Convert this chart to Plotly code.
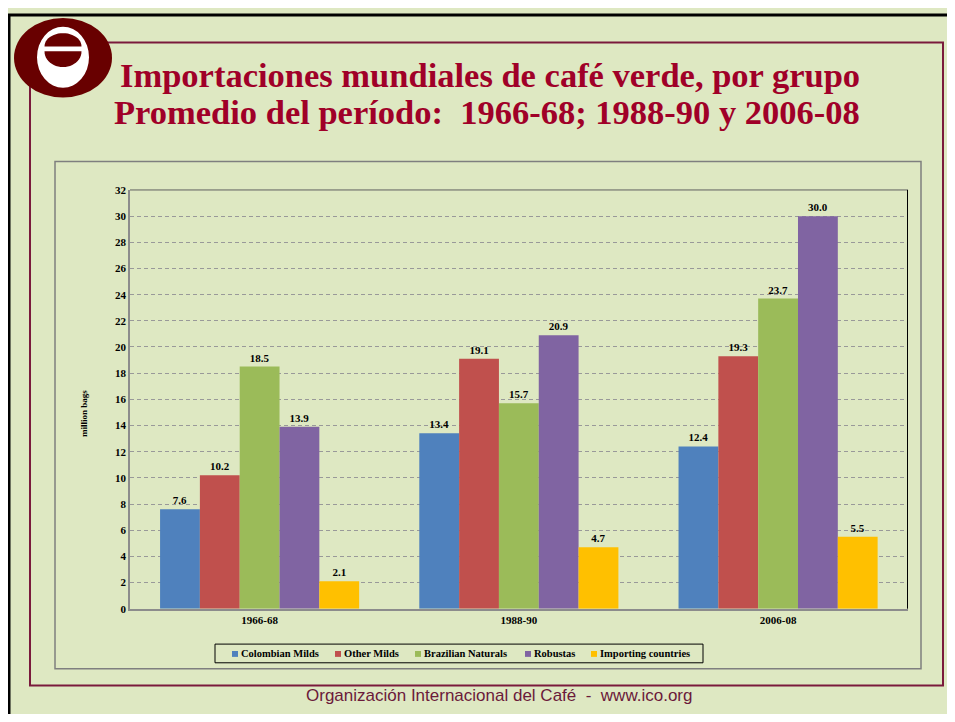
import plotly.graph_objects as go
import math

periods = ["1966-68", "1988-90", "2006-08"]
series_names = ["Colombian Milds", "Other Milds", "Brazilian Naturals", "Robustas", "Importing countries"]
colombian = [7.6, 13.4, 12.4]
other_milds = [10.2, 19.1, 19.3]
brazilian = [18.5, 15.7, 23.7]
robustas = [13.9, 20.9, 30.0]
importing = [2.1, 4.7, 5.5]
y_ticks = list(range(0, 33, 2))

colors = ["#4F81BD", "#C0504D", "#9BBB59", "#8064A2", "#FFC000"]
values = [colombian, other_milds, brazilian, robustas, importing]

OFF = 8  # page body margin
W, H = 955 - OFF, 722 - 2 * OFF
BG = "#DEE8C2"
SERIF = "Liberation Serif, Times New Roman, serif"


def px(x):
    return (x - OFF) / W


def py(y):
    return 1 - (y - OFF) / H


fig = go.Figure()
for name, vals, col in zip(series_names, values, colors):
    fig.add_trace(go.Bar(
        name=name, x=periods, y=vals, marker=dict(color=col, line=dict(width=0)),
        texttemplate="%{y:.1f}", textposition="outside",
        textfont=dict(family=SERIF, size=11, color="black", weight="bold"),
        cliponaxis=False, showlegend=False,
    ))

shapes = []
# outer black border
shapes.append(dict(type="line", xref="paper", yref="paper", x0=px(8), x1=px(955), y0=py(9), y1=py(9),
                   line=dict(color="black", width=3)))
shapes.append(dict(type="line", xref="paper", yref="paper", x0=px(9), x1=px(9), y0=py(8), y1=py(722),
                   line=dict(color="black", width=3)))
# maroon frame
shapes.append(dict(type="rect", xref="paper", yref="paper", x0=px(30), x1=px(943), y0=py(37), y1=py(691),
                   line=dict(color="#7A1A3C", width=2)))
# chart box
shapes.append(dict(type="rect", xref="paper", yref="paper", x0=px(55), x1=px(921), y0=py(158), y1=py(674),
                   line=dict(color="#7F7F7F", width=1.5)))
# plot area top/right border
shapes.append(dict(type="line", xref="paper", yref="paper", x0=px(130), x1=px(908), y0=py(187), y1=py(187),
                   line=dict(color="#606060", width=1)))
shapes.append(dict(type="line", xref="paper", yref="paper", x0=px(907.5), x1=px(907.5), y0=py(187), y1=py(613),
                   line=dict(color="black", width=1)))

# logo
LOGO = "#680000"
shapes.append(dict(type="circle", xref="paper", yref="paper", x0=px(14), x1=px(112), y0=py(12), y1=py(93),
                   fillcolor=LOGO, line=dict(width=0)))
shapes.append(dict(type="circle", xref="paper", yref="paper", x0=px(37), x1=px(89), y0=py(21), y1=py(83),
                   fillcolor="white", line=dict(width=0)))


def half_ellipse(cx, yflat, rx, ry, up):
    pts = []
    n = 24
    for i in range(n + 1):
        a = math.pi * i / n
        x = cx - rx * math.cos(a)
        y = yflat - ry * math.sin(a) if up else yflat + ry * math.sin(a)
        pts.append((px(x), py(y)))
    return "M " + " L ".join(f"{x:.5f},{y:.5f}" for x, y in pts) + " Z"


shapes.append(dict(type="path", xref="paper", yref="paper", path=half_ellipse(63, 41, 18.5, 13.5, True),
                   fillcolor=LOGO, line=dict(width=0)))
shapes.append(dict(type="path", xref="paper", yref="paper", path=half_ellipse(63, 46, 18.5, 16, False),
                   fillcolor=LOGO, line=dict(width=0)))

annotations = [
    dict(text="<b>Importaciones mundiales de café verde, por grupo</b>", xref="paper", yref="paper",
         x=px(490), y=py(70), showarrow=False, xanchor="center", yanchor="middle",
         font=dict(family=SERIF, size=34.5, color="#A00028")),
    dict(text="<b>Promedio del período:  1966-68; 1988-90 y 2006-08</b>", xref="paper", yref="paper",
         x=px(487), y=py(108), showarrow=False, xanchor="center", yanchor="middle",
         font=dict(family=SERIF, size=34.5, color="#A00028")),
    dict(text="<b>million bags</b>", xref="paper", yref="paper", x=px(84), y=py(415), showarrow=False,
         textangle=-90, xanchor="center", yanchor="middle", font=dict(family=SERIF, size=9, color="black")),
    dict(text="Organización Internacional del Café  -  www.ico.org", xref="paper", yref="paper",
         x=px(499), y=py(713), showarrow=False, xanchor="center", yanchor="bottom",
         font=dict(family="Liberation Sans, Arial, sans-serif", size=17, color="#6B1A3A")),
]

# Excel-style legend box
shapes.append(dict(type="rect", xref="paper", yref="paper", x0=px(215), x1=px(703), y0=py(649), y1=py(668),
                   line=dict(color="black", width=1)))
legend_x = [232, 335, 415, 525, 591]
for name, col, lx in zip(series_names, colors, legend_x):
    shapes.append(dict(type="rect", xref="paper", yref="paper", x0=px(lx), x1=px(lx + 6),
                       y0=py(656), y1=py(662), fillcolor=col, line=dict(width=0)))
    annotations.append(dict(text=f"<b>{name}</b>", xref="paper", yref="paper", x=px(lx + 7), y=py(659),
                            showarrow=False, xanchor="left", yanchor="middle",
                            font=dict(family=SERIF, size=10.5, color="black")))

fig.update_layout(
    width=W, height=H, margin=dict(l=0, r=0, t=0, b=0),
    paper_bgcolor=BG, plot_bgcolor=BG,
    barmode="group", bargap=0.232, bargroupgap=0,
    shapes=shapes, annotations=annotations,
    font=dict(family=SERIF, color="black"),
    showlegend=False,
    xaxis=dict(type="category", domain=[px(130), px(907.7)], showline=True, linecolor="#8C8C8C", linewidth=1.5,
               ticks="", tickfont=dict(family=SERIF, size=11, weight="bold"), showgrid=False),
    yaxis=dict(domain=[py(613), py(187)], range=[0, 32], tickvals=y_ticks, showline=True,
               linecolor="#8C8C8C", linewidth=1.5, ticks="", zeroline=False,
               showgrid=True, gridcolor="#999999", griddash="4px,3px", gridwidth=1,
               tickfont=dict(family=SERIF, size=11, weight="bold")),
)

fig.write_html("out.html")
